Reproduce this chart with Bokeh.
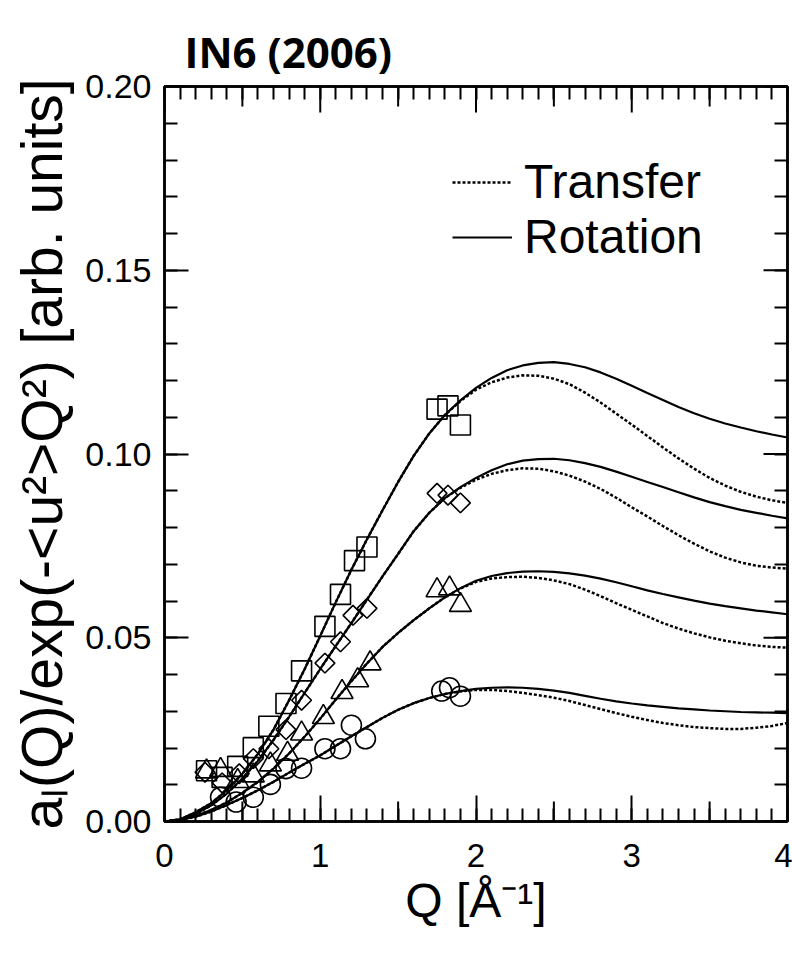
import numpy as np
from bokeh.plotting import figure
from bokeh.models import Range1d, LinearAxis, FixedTicker, Legend, LegendItem
from bokeh.embed import file_html
from bokeh.resources import INLINE

# ---- data ----
q_grid = [round(0.1 * i, 1) for i in range(41)]

rot_sq = [0.0, 0.0006, 0.0025, 0.0050, 0.0085, 0.0130, 0.0184, 0.0250, 0.0330, 0.0415,
          0.0505, 0.0597, 0.0685, 0.0768, 0.0847, 0.0924, 0.0995, 0.1056, 0.1106, 0.1146,
          0.1180, 0.1207, 0.1228, 0.1241, 0.1248, 0.1250, 0.1245, 0.1236, 0.1222, 0.1205,
          0.1186, 0.1166, 0.1147, 0.1128, 0.1111, 0.1096, 0.1083, 0.1072, 0.1062, 0.1053,
          0.1045]
tra_sq = [0.0, 0.0006, 0.0025, 0.0050, 0.0085, 0.0130, 0.0184, 0.0250, 0.0330, 0.0415,
          0.0505, 0.0597, 0.0685, 0.0768, 0.0847, 0.0924, 0.0995, 0.1056, 0.1106, 0.1144,
          0.1175, 0.1195, 0.1208, 0.1214, 0.1213, 0.1205, 0.1190, 0.1167, 0.1140, 0.1110,
          0.1080, 0.1049, 0.1018, 0.0988, 0.0960, 0.0935, 0.0914, 0.0897, 0.0884, 0.0874,
          0.0867]

rot_di = [0.0, 0.0005, 0.0020, 0.0044, 0.0076, 0.0117, 0.0165, 0.0222, 0.0285, 0.0350,
          0.0415, 0.0478, 0.0540, 0.0604, 0.0667, 0.0728, 0.0790, 0.0840, 0.0880, 0.0910,
          0.0935, 0.0956, 0.0972, 0.0982, 0.0986, 0.0987, 0.0983, 0.0975, 0.0965, 0.0952,
          0.0938, 0.0924, 0.0910, 0.0896, 0.0882, 0.0869, 0.0858, 0.0848, 0.0840, 0.0832,
          0.0825]
tra_di = [0.0, 0.0005, 0.0020, 0.0044, 0.0076, 0.0117, 0.0165, 0.0222, 0.0285, 0.0350,
          0.0415, 0.0478, 0.0540, 0.0604, 0.0667, 0.0728, 0.0790, 0.0840, 0.0880, 0.0908,
          0.0930, 0.0946, 0.0956, 0.0961, 0.0960, 0.0953, 0.0941, 0.0925, 0.0905, 0.0881,
          0.0855, 0.0830, 0.0804, 0.0779, 0.0756, 0.0735, 0.0718, 0.0705, 0.0696, 0.0691,
          0.0688]

rot_tr = [0.0, 0.0004, 0.0015, 0.0031, 0.0052, 0.0078, 0.0108, 0.0144, 0.0185, 0.0231,
          0.0280, 0.0332, 0.0382, 0.0430, 0.0475, 0.0513, 0.0548, 0.0580, 0.0610, 0.0635,
          0.0655, 0.0668, 0.0676, 0.0680, 0.0681, 0.0679, 0.0675, 0.0669, 0.0661, 0.0651,
          0.0640, 0.0629, 0.0619, 0.0610, 0.0601, 0.0593, 0.0586, 0.0580, 0.0574, 0.0569,
          0.0564]
tra_tr = [0.0, 0.0004, 0.0015, 0.0031, 0.0052, 0.0078, 0.0108, 0.0144, 0.0185, 0.0231,
          0.0280, 0.0332, 0.0382, 0.0430, 0.0475, 0.0513, 0.0548, 0.0580, 0.0610, 0.0634,
          0.0652, 0.0661, 0.0665, 0.0666, 0.0663, 0.0656, 0.0646, 0.0631, 0.0613, 0.0594,
          0.0576, 0.0558, 0.0540, 0.0525, 0.0512, 0.0501, 0.0492, 0.0485, 0.0479, 0.0475,
          0.0473]

rot_ci = [0.0, 0.0004, 0.0013, 0.0027, 0.0045, 0.0064, 0.0085, 0.0108, 0.0133, 0.0157,
          0.0180, 0.0206, 0.0232, 0.0257, 0.0282, 0.0304, 0.0322, 0.0336, 0.0347, 0.0355,
          0.0361, 0.0364, 0.0365, 0.0364, 0.0361, 0.0356, 0.0350, 0.0342, 0.0334, 0.0327,
          0.0321, 0.0316, 0.0312, 0.0308, 0.0305, 0.0302, 0.0300, 0.0298, 0.0297, 0.0296,
          0.0295]
tra_ci = [0.0, 0.0004, 0.0013, 0.0027, 0.0045, 0.0064, 0.0085, 0.0108, 0.0133, 0.0157,
          0.0180, 0.0206, 0.0232, 0.0257, 0.0282, 0.0304, 0.0322, 0.0336, 0.0347, 0.0354,
          0.0358, 0.0358, 0.0355, 0.0350, 0.0344, 0.0337, 0.0328, 0.0317, 0.0306, 0.0295,
          0.0285, 0.0276, 0.0268, 0.0262, 0.0257, 0.0254, 0.0252, 0.0252, 0.0255, 0.0260,
          0.0268]

sq_q = [0.27, 0.37, 0.47, 0.57, 0.67, 0.78, 0.88, 1.03, 1.13, 1.22, 1.30, 1.75, 1.82, 1.90]
sq_v = [0.0138, 0.0120, 0.0150, 0.0201, 0.0259, 0.0321, 0.0410, 0.0531, 0.0618,
        0.0710, 0.0747, 0.1122, 0.1131, 0.1079]

di_q = [0.26, 0.37, 0.48, 0.57, 0.67, 0.78, 0.88, 1.03, 1.13, 1.21, 1.30, 1.75, 1.82, 1.90]
di_v = [0.0134, 0.0105, 0.0130, 0.0171, 0.0198, 0.0250, 0.0330, 0.0431, 0.0489,
        0.0561, 0.0580, 0.0893, 0.0888, 0.0867]

tr_q = [0.27, 0.36, 0.47, 0.57, 0.68, 0.79, 0.88, 1.02, 1.14, 1.24, 1.32, 1.75, 1.83, 1.90]
tr_v = [0.0136, 0.0140, 0.0110, 0.0125, 0.0155, 0.0184, 0.0239, 0.0284, 0.0352,
        0.0384, 0.0430, 0.0629, 0.0634, 0.0589]

ci_q = [0.36, 0.46, 0.57, 0.68, 0.78, 0.88, 1.03, 1.13, 1.20, 1.29, 1.78, 1.83, 1.90]
ci_v = [0.0066, 0.0053, 0.0066, 0.0101, 0.0144, 0.0145, 0.0198, 0.0198, 0.0262,
        0.0225, 0.0355, 0.0364, 0.0341]

x_major = [0, 1, 2, 3, 4]
x_half = [0.5, 1.5, 2.5, 3.5]
x_minor = [round(0.1 * i, 1) for i in range(41)]
y_major = [0.0, 0.05, 0.10, 0.15, 0.20]
y_minor = [round(0.01 * i, 2) for i in range(21)]
y_labels = {0.0: "0.00", 0.05: "0.05", 0.1: "0.10", 0.15: "0.15", 0.2: "0.20"}

TITLE = "IN6 (2006)"
FONT = "Liberation Sans"

p = figure(width=792, height=955, x_range=Range1d(0, 4), y_range=Range1d(0, 0.2),
           output_backend="svg", toolbar_location=None,
           min_border_left=164, min_border_right=5, min_border_top=86,
           min_border_bottom=134)
p.xgrid.visible = False
p.ygrid.visible = False
p.outline_line_color = "black"
p.outline_line_width = 2.5
p.background_fill_color = "white"
p.border_fill_color = "white"

p.title.text = TITLE
p.title.text_font = "Open Sans"
p.title.text_font_style = "bold"
p.title.text_font_size = "42px"
p.title.text_color = "black"
p.title.align = "left"
p.title.vertical_align = "top"
p.title.offset = 20
p.title.standoff = 10


def tick_style(ax, maj_len, min_len):
    ax.axis_line_width = 2.5
    ax.major_tick_in = maj_len
    ax.major_tick_out = 0
    ax.minor_tick_in = min_len
    ax.minor_tick_out = 0
    ax.major_tick_line_width = 2
    ax.minor_tick_line_width = 2


xa = p.xaxis[0]
xa.ticker = FixedTicker(ticks=x_major, minor_ticks=x_minor)
tick_style(xa, 26, 13)
xa.major_label_text_font = FONT
xa.major_label_text_font_size = "33px"
xa.major_label_text_color = "black"
xa.major_label_standoff = 22
xa.axis_label = "Q [Å⁻¹]"
xa.axis_label_text_font = FONT
xa.axis_label_text_font_size = "48px"
xa.axis_label_text_font_style = "normal"
xa.axis_label_text_color = "black"
xa.axis_label_standoff = 4

ya = p.yaxis[0]
ya.ticker = FixedTicker(ticks=y_major, minor_ticks=y_minor)
tick_style(ya, 24, 13)
ya.major_label_overrides = y_labels
ya.major_label_text_font = FONT
ya.major_label_text_font_size = "34px"
ya.major_label_text_color = "black"
ya.major_label_standoff = 13
ya.axis_label = "aₗ(Q)/exp(-<u²>Q²) [arb. units]"
ya.axis_label_text_font = FONT
ya.axis_label_text_font_size = "57px"
ya.axis_label_text_font_style = "normal"
ya.axis_label_text_color = "black"
ya.axis_label_standoff = 8

# top and right axes: tick marks only (no labels)
top = LinearAxis(ticker=FixedTicker(ticks=[], minor_ticks=x_minor))
tick_style(top, 0, 13)
p.add_layout(top, "above")
right = LinearAxis(ticker=FixedTicker(ticks=[], minor_ticks=y_minor))
tick_style(right, 0, 13)
p.add_layout(right, "right")

# longer ticks drawn as short rays from the frame
tk = dict(length_units="screen", line_color="black", line_width=2)
p.ray(x=x_half, y=[0] * len(x_half), length=20, angle=np.pi / 2, **tk)
p.ray(x=x_half, y=[0.2] * len(x_half), length=20, angle=-np.pi / 2, **tk)
p.ray(x=x_major, y=[0.2] * len(x_major), length=26, angle=-np.pi / 2, **tk)
p.ray(x=[4] * len(y_major), y=y_major, length=24, angle=np.pi, **tk)

DOT = "3 2"
dot_r = None
sol_r = None
for tra, rot in [(tra_sq, rot_sq), (tra_di, rot_di), (tra_tr, rot_tr), (tra_ci, rot_ci)]:
    dot_r = p.line(q_grid, tra, line_color="black", line_width=2.5, line_dash=DOT)
    sol_r = p.line(q_grid, rot, line_color="black", line_width=2.2)

mk = dict(fill_color=None, line_color="black", line_width=1.6)
p.scatter(sq_q, sq_v, marker="square", size=20, **mk)
p.scatter(di_q, di_v, marker="square", size=14, angle=np.pi / 4, **mk)
p.scatter(tr_q, tr_v, marker="triangle", size=22, **mk)
p.scatter(ci_q, ci_v, marker="circle", size=20, **mk)

legend = Legend(items=[LegendItem(label="Transfer", renderers=[dot_r]),
                       LegendItem(label="Rotation", renderers=[sol_r])],
                location=(278, 547), border_line_alpha=0, background_fill_alpha=0,
                label_text_font=FONT, label_text_font_size="48px",
                label_text_color="black",
                glyph_width=60, glyph_height=40, label_standoff=12,
                spacing=0, padding=10, margin=0)
p.add_layout(legend)

open("out.html", "w").write(file_html(p, INLINE))
